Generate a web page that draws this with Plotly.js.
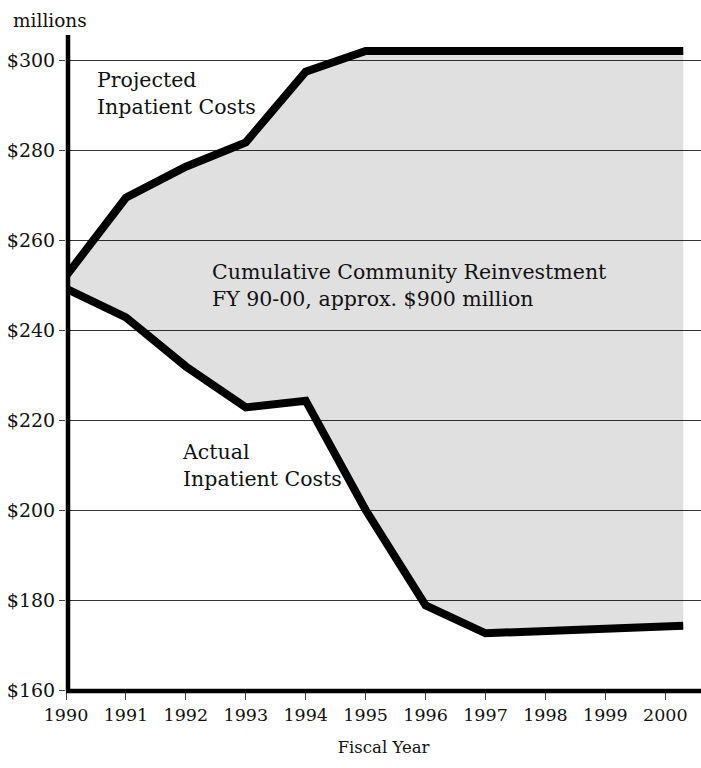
<!DOCTYPE html>
<html>
<head>
<meta charset="utf-8">
<script src="https://cdn.plot.ly/plotly-3.0.1.min.js"></script>
<style>html,body{margin:0;padding:0;background:#fff;}</style>
</head>
<body>
<div id="chart" style="width:701px;height:768px;"></div>
<script>
// Data (millions of dollars, fiscal years)
const projectedYears = [1990, 1991, 1992, 1993, 1994, 1995, 1996, 1997, 1998, 1999, 2000, 2000.3];
const projectedCosts = [252, 269.4, 276.3, 281.7, 297.4, 302, 302, 302, 302, 302, 302, 302];
const actualYears = [1990, 1991, 1992, 1993, 1994, 1995, 1996, 1997, 2000.3];
const actualCosts = [249.2, 242.8, 231.9, 222.8, 224.3, 200, 178.8, 172.6, 174.3];
const xTickVals = [1990, 1991, 1992, 1993, 1994, 1995, 1996, 1997, 1998, 1999, 2000];
const xTickText = ["1990", "1991", "1992", "1993", "1994", "1995", "1996", "1997", "1998", "1999", "2000"];
const yTickVals = [160, 180, 200, 220, 240, 260, 280, 300];
const yTickText = ["$160", "$180", "$200", "$220", "$240", "$260", "$280", "$300"];

const FONT = "DejaVu Serif, serif";
const INK = "#111";

const traces = [
  {
    x: actualYears, y: actualCosts, type: "scatter", mode: "lines",
    line: {color: "#000", width: 8, shape: "linear"},
    hoverinfo: "skip", showlegend: false
  },
  {
    x: projectedYears, y: projectedCosts, type: "scatter", mode: "lines",
    fill: "tonexty", fillcolor: "rgba(0,0,0,0.12)",
    line: {color: "#000", width: 8, shape: "linear"},
    hoverinfo: "skip", showlegend: false
  }
];

const layout = {
  width: 701, height: 768,
  margin: {l: 66, r: 0, t: 35, b: 78, pad: 0},
  paper_bgcolor: "#fff", plot_bgcolor: "#fff",
  showlegend: false,
  font: {family: FONT, color: INK, size: 18},
  xaxis: {
    range: [1990, 2000.596], tickmode: "array", tickvals: xTickVals, ticktext: xTickText,
    showgrid: false, zeroline: false, showline: false,
    ticks: "outside", ticklen: 9, tickwidth: 1, tickcolor: "#444",
    tickfont: {family: FONT, size: 17.5, color: INK},
    title: {text: "Fiscal Year", font: {family: FONT, size: 16.5, color: INK}, standoff: 17},
    fixedrange: true
  },
  yaxis: {
    range: [160, 305.56], tickmode: "array", tickvals: yTickVals, ticktext: yTickText,
    showgrid: true, gridcolor: "#333", gridwidth: 1, zeroline: false, showline: false,
    ticks: "outside", ticklen: 6, tickwidth: 1, tickcolor: "#444",
    tickfont: {family: FONT, size: 19, color: INK},
    fixedrange: true
  },
  shapes: [
    {type: "line", xref: "paper", yref: "paper", x0: 0.00315, x1: 0.00315, y0: -0.0015, y1: 1,
     line: {color: "#000", width: 4.5}, layer: "above"},
    {type: "line", xref: "paper", yref: "paper", x0: 0, x1: 1, y0: -0.0015, y1: -0.0015,
     line: {color: "#000", width: 4.5}, layer: "above"}
  ],
  annotations: [
    {xref: "paper", yref: "paper", x: -0.087, y: 1.022, xanchor: "left", yanchor: "middle",
     text: "millions", showarrow: false, font: {family: FONT, size: 18.5, color: INK}},
    {xref: "x", yref: "y", x: 1990.49, y: 292.6, xanchor: "left", yanchor: "middle", align: "left",
     text: "Projected<br>Inpatient Costs", showarrow: false, font: {family: FONT, size: 20.5, color: INK}},
    {xref: "x", yref: "y", x: 1992.4, y: 250.0, xanchor: "left", yanchor: "middle", align: "left",
     text: "Cumulative Community Reinvestment<br>FY 90-00, approx. $900 million", showarrow: false,
     font: {family: FONT, size: 20.5, color: INK}},
    {xref: "x", yref: "y", x: 1991.9, y: 209.8, xanchor: "left", yanchor: "middle", align: "left",
     text: "Actual<br>Inpatient Costs", showarrow: false, font: {family: FONT, size: 20.5, color: INK}}
  ]
};

Plotly.newPlot("chart", traces, layout, {staticPlot: true, displayModeBar: false});
</script>
</body>
</html>
